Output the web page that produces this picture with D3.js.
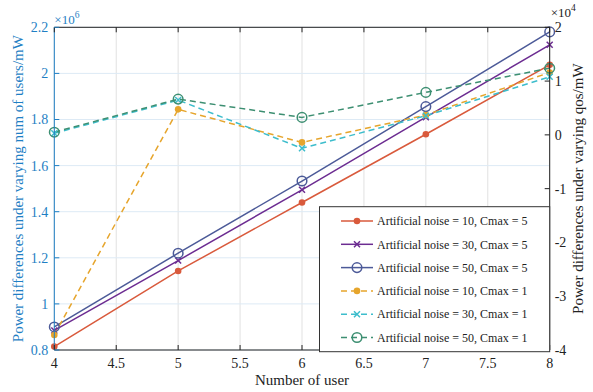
<!DOCTYPE html>
<html>
<head>
<meta charset="utf-8">
<script src="https://cdn.jsdelivr.net/npm/d3@7"></script>
<style>
  body { margin: 0; background: #fff; }
</style>
</head>
<body>
<svg id="chart" width="593" height="392" style="font-family: 'Liberation Serif', 'DejaVu Serif', serif;"></svg>
<script>
// users on the x axis
const users = [4, 5, 6, 7, 8];

// left axis (x10^6), Cmax = 5
const noise10Cmax5 = [0.815, 1.143, 1.44, 1.736, 2.037];
const noise30Cmax5 = [0.885, 1.188, 1.495, 1.81, 2.124];
const noise50Cmax5 = [0.9, 1.22, 1.533, 1.856, 2.18];

// right axis (x10^4), Cmax = 1
const noise10Cmax1 = [-3.72, 0.474, -0.14, 0.368, 1.16];
const noise30Cmax1 = [0.03, 0.647, -0.25, 0.355, 1.08];
const noise50Cmax1 = [0.05, 0.665, 0.325, 0.79, 1.24];

const xTicks = [4, 4.5, 5, 5.5, 6, 6.5, 7, 7.5, 8];
const leftTicks = [0.8, 1, 1.2, 1.4, 1.6, 1.8, 2, 2.2];
const rightTicks = [-4, -3, -2, -1, 0, 1, 2];

const series = [
    { name: "Artificial noise = 10, Cmax = 5", values: noise10Cmax5, axis: "left", color: "#d95a3c", marker: "dot", dash: null },
    { name: "Artificial noise = 30, Cmax = 5", values: noise30Cmax5, axis: "left", color: "#6c2c91", marker: "cross", dash: null },
    { name: "Artificial noise = 50, Cmax = 5", values: noise50Cmax5, axis: "left", color: "#4c5a98", marker: "circle", dash: null },
    { name: "Artificial noise = 10, Cmax = 1", values: noise10Cmax1, axis: "right", color: "#e6a52c", marker: "dot", dash: "6,4" },
    { name: "Artificial noise = 30, Cmax = 1", values: noise30Cmax1, axis: "right", color: "#3dbdcc", marker: "cross", dash: "6,4" },
    { name: "Artificial noise = 50, Cmax = 1", values: noise50Cmax1, axis: "right", color: "#3d8f72", marker: "circle", dash: "6,4" }
];

const width = 593;
const height = 392;
const margin = { top: 27.3, right: 43.3, bottom: 42, left: 54.3 };
const blue = "#1f7fc4";
const font = "'Liberation Serif', 'DejaVu Serif', serif";

const svg = d3.select("#chart");

const x = d3.scaleLinear().domain([4, 8]).range([margin.left, width - margin.right]);
const yLeft = d3.scaleLinear().domain([0.8, 2.2]).range([height - margin.bottom, margin.top]);
const yRight = d3.scaleLinear().domain([-4, 2]).range([height - margin.bottom, margin.top]);

const x0 = margin.left, x1 = width - margin.right;
const y0 = height - margin.bottom, y1 = margin.top;

// grid lines
svg.append("g")
    .selectAll("line")
    .data(xTicks)
    .join("line")
    .attr("x1", d => x(d)).attr("x2", d => x(d))
    .attr("y1", y0).attr("y2", y1)
    .attr("stroke", "#e1e1e1")
    .attr("stroke-width", 1);

svg.append("g")
    .selectAll("line")
    .data(leftTicks)
    .join("line")
    .attr("x1", x0).attr("x2", x1)
    .attr("y1", d => yLeft(d)).attr("y2", d => yLeft(d))
    .attr("stroke", "#ddeaf5")
    .attr("stroke-width", 1);

// data lines
const lines = svg.append("g");
series.forEach(s => {
    const y = s.axis === "left" ? yLeft : yRight;
    const line = d3.line().x((d, i) => x(users[i])).y(d => y(d));
    lines.append("path")
        .datum(s.values)
        .attr("d", line)
        .attr("fill", "none")
        .attr("stroke", s.color)
        .attr("stroke-width", 1.5)
        .attr("stroke-dasharray", s.dash);
});

function drawMarker(g, type, cx, cy, color) {
    if (type === "dot") {
        g.append("circle").attr("cx", cx).attr("cy", cy).attr("r", 3.3).attr("fill", color);
    } else if (type === "circle") {
        g.append("circle").attr("cx", cx).attr("cy", cy).attr("r", 4.8)
            .attr("fill", "none").attr("stroke", color).attr("stroke-width", 1.5);
    } else {
        const r = 3;
        g.append("path")
            .attr("d", `M${cx - r},${cy - r}L${cx + r},${cy + r}M${cx - r},${cy + r}L${cx + r},${cy - r}`)
            .attr("stroke", color).attr("stroke-width", 1.5);
    }
}

series.forEach(s => {
    const y = s.axis === "left" ? yLeft : yRight;
    const g = svg.append("g");
    s.values.forEach((v, i) => drawMarker(g, s.marker, x(users[i]), y(v), s.color));
});

// box and ticks
const tickLen = 5;
svg.append("line").attr("x1", x0).attr("x2", x1).attr("y1", y0).attr("y2", y0).attr("stroke", "#222");
svg.append("line").attr("x1", x0).attr("x2", x1).attr("y1", y1).attr("y2", y1).attr("stroke", "#222");
svg.append("line").attr("x1", x0).attr("x2", x0).attr("y1", y0).attr("y2", y1).attr("stroke", blue);
svg.append("line").attr("x1", x1).attr("x2", x1).attr("y1", y0).attr("y2", y1).attr("stroke", "#222");

const xt = svg.append("g");
xTicks.forEach(t => {
    xt.append("line").attr("x1", x(t)).attr("x2", x(t)).attr("y1", y0).attr("y2", y0 - tickLen).attr("stroke", "#222");
    xt.append("line").attr("x1", x(t)).attr("x2", x(t)).attr("y1", y1).attr("y2", y1 + tickLen).attr("stroke", "#222");
    xt.append("text").attr("x", x(t)).attr("y", y0 + 18).attr("text-anchor", "middle")
        .attr("font-family", font).attr("font-size", 14).attr("fill", "#222").text(t);
});

const lt = svg.append("g");
leftTicks.forEach(t => {
    lt.append("line").attr("x1", x0).attr("x2", x0 + tickLen).attr("y1", yLeft(t)).attr("y2", yLeft(t)).attr("stroke", blue);
    lt.append("text").attr("x", x0 - 6).attr("y", yLeft(t)).attr("dy", "0.35em").attr("text-anchor", "end")
        .attr("font-family", font).attr("font-size", 14).attr("fill", blue).text(d3.format("")(t));
});

const rt = svg.append("g");
rightTicks.forEach(t => {
    rt.append("line").attr("x1", x1).attr("x2", x1 - tickLen).attr("y1", yRight(t)).attr("y2", yRight(t)).attr("stroke", "#222");
    rt.append("text").attr("x", x1 + 5).attr("y", yRight(t)).attr("dy", "0.35em").attr("text-anchor", "start")
        .attr("font-family", font).attr("font-size", 14).attr("fill", "#222").text(t < 0 ? "-" + Math.abs(t) : t);
});

// exponent labels
const expL = svg.append("text").attr("x", x0).attr("y", 24)
    .attr("font-family", font).attr("font-size", 13).attr("fill", blue);
expL.append("tspan").text("×10");
expL.append("tspan").attr("dy", -6).attr("font-size", 9.5).text("6");

const expR = svg.append("text").attr("x", x1 + 1).attr("y", 17)
    .attr("font-family", font).attr("font-size", 13).attr("fill", "#222");
expR.append("tspan").text("×10");
expR.append("tspan").attr("dy", -6).attr("font-size", 9.5).text("4");

// axis labels
svg.append("text")
    .attr("x", (x0 + x1) / 2).attr("y", 385)
    .attr("text-anchor", "middle").attr("font-family", font).attr("font-size", 15).attr("fill", "#222")
    .text("Number of user");

svg.append("text")
    .attr("transform", `translate(23,${(y0 + y1) / 2}) rotate(-90)`)
    .attr("text-anchor", "middle").attr("font-family", font).attr("font-size", 15).attr("fill", blue)
    .text("Power differences under varying num of users/mW");

svg.append("text")
    .attr("transform", `translate(583,${(y0 + y1) / 2}) rotate(-90)`)
    .attr("text-anchor", "middle").attr("font-family", font).attr("font-size", 15).attr("fill", "#222")
    .text("Power differences under varying qos/mW");

// legend
const legend = svg.append("g");
legend.append("rect")
    .attr("x", 319.5).attr("y", 206.7)
    .attr("width", x1 - 319.5).attr("height", 145)
    .attr("fill", "#fff").attr("stroke", "#333").attr("stroke-width", 1);

series.forEach((s, i) => {
    const ly = 221 + i * 23.3;
    legend.append("line")
        .attr("x1", 341).attr("x2", 373).attr("y1", ly).attr("y2", ly)
        .attr("stroke", s.color).attr("stroke-width", 1.5)
        .attr("stroke-dasharray", s.dash);
    drawMarker(legend, s.marker, 357, ly, s.color);
    legend.append("text")
        .attr("x", 377).attr("y", ly).attr("dy", "0.35em")
        .attr("font-family", font).attr("font-size", 12).attr("fill", "#222")
        .text(s.name);
});
</script>
</body>
</html>
